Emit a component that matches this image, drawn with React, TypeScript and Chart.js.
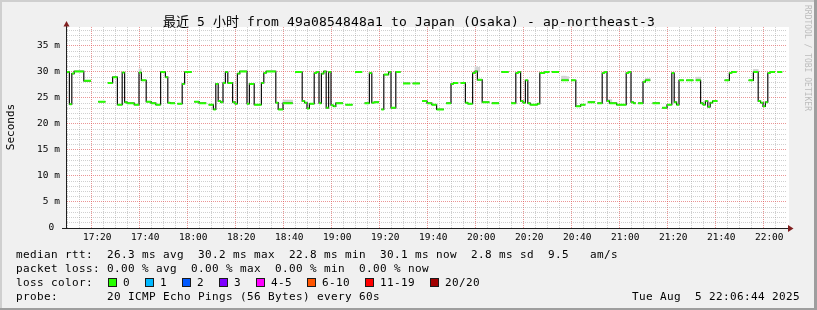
import { useEffect, useRef } from 'react';
import { Chart, registerables } from 'chart.js';

Chart.register(...registerables);

// ---------- data ----------
// graph window: 5 hours, minutes of day
const WINDOW_START = 17 * 60 + 7.4;
const WINDOW_MINUTES = 300;

// median rtt (ms) as runs: minute offset from window start where a value begins, value (null = no data)
const runStart = [
  0, 1, 2, 3, 7, 10, 13, 16, 17, 19, 21, 23, 24, 25, 28, 30, 31, 33, 35, 37, 39, 41, 42, 43, 45, 46, 48, 49, 52, 53,
  55, 58, 59, 61, 62, 63, 64, 65, 66, 67, 69, 70, 71, 72, 75, 76, 78, 81, 82, 83, 87, 88, 90, 94, 95, 98, 99, 100, 101, 103,
  104, 105, 106, 107, 108, 109, 110, 111, 112, 115, 116, 119, 120, 123, 124, 126, 127, 128, 130, 131, 132, 134, 135, 137, 139, 140, 143, 144, 147, 148,
  150, 152, 154, 157, 158, 160, 161, 163, 164, 166, 167, 169, 170, 171, 173, 176, 177, 180, 181, 184, 185, 187, 188, 189, 190, 191, 192, 193, 196, 197,
  199, 201, 202, 205, 206, 209, 210, 212, 214, 216, 217, 220, 221, 223, 224, 225, 226, 229, 233, 234, 235, 236, 237, 238, 240, 241, 243, 244, 247, 248,
  250, 252, 253, 254, 255, 257, 258, 261, 262, 264, 265, 266, 267, 268, 269, 271, 274, 276, 277, 279, 284, 286, 288, 289, 290, 291, 292, 293, 295, 296,
  298,
];
const runValue: (number | null)[] = [
  30.0, 23.8, 29.7, 30.1, 28.3, null, 24.3, null, 27.9, 29.0, 23.7, 29.9, 24.2, 24.0, 23.7, 29.9, 28.4, 24.3, 24.0, 23.7, 30.0, 29.0, 24.1, 24.0, null, 23.9, 27.7, 30.0, null, 24.3,
  24.0, null, 23.7, 22.8, 27.7, 24.4, 24.2, 27.9, 30.0, 27.9, 24.2, 23.9, 29.7, 30.1, 23.9, 27.7, 23.7, 27.9, 29.8, 30.1, 24.1, 22.8, 24.0, null, 30.0, 24.4, 24.1, 23.0, 23.9, 29.8,
  30.0, 24.0, 29.7, 30.1, 23.1, 30.0, 23.6, 23.4, 24.0, null, 23.7, null, 30.0, null, 24.0, 29.8, 24.1, 24.2, null, 22.8, 29.5, 30.0, 23.1, 30.0, null, 27.8, null, 27.8, null, 24.4,
  24.0, 23.7, 22.8, null, 24.0, 27.7, 27.9, null, 27.9, 24.1, 23.9, 29.8, 30.1, 28.5, 24.2, null, 24.0, null, 30.0, null, 24.0, 29.8, 30.0, 24.4, 24.1, 28.4, 24.0, 23.7, 23.9, 29.8,
  30.0, null, 30.0, null, 28.4, null, 28.4, 23.4, 23.7, null, 24.2, null, 24.0, 29.8, 30.0, 24.4, 24.0, 23.7, 29.8, 30.0, 24.2, 24.0, null, 24.0, 28.1, 28.4, null, 24.0, null, 23.1,
  23.7, 29.8, 24.2, 23.7, 28.4, null, 28.4, null, 28.4, 24.0, 23.7, 24.4, 23.3, 24.1, 24.4, null, 28.4, 29.8, 30.0, null, 28.4, 30.0, 24.4, 24.1, 23.4, 24.2, 29.8, 30.0, null, 30.0,
  null,
];

// smoke (spread of individual pings) for the few minutes where it shows
const smokeMinute = [30, 90, 91, 92, 93, 170, 171, 206, 207, 208, 225, 226, 241, 242, 262, 263, 286, 287];
const smokeLow = [29.9, 24.0, 24.0, 24.0, 24.0, 30.0, 30.0, 28.4, 28.4, 28.4, 24.3, 24.3, 28.4, 28.4, 28.5, 28.5, 30.0, 30.0];
const smokeHigh = [30.6, 24.6, 24.6, 24.6, 24.6, 31.0, 30.9, 29.2, 29.2, 29.1, 24.7, 24.7, 28.8, 28.8, 29.0, 29.0, 30.5, 30.5];

const xTickLabels = ['17:20', '17:40', '18:00', '18:20', '18:40', '19:00', '19:20', '19:40', '20:00', '20:20', '20:40', '21:00', '21:20', '21:40', '22:00'];
const yTickValues = [0, 5, 10, 15, 20, 25, 30, 35];
const Y_MAX = 38.65;
const X_MINOR_STEP = 5; // minutes
const Y_MINOR_STEP = 1; // ms

const titleText = '最近 5 小时 from 49a0854848a1 to Japan (Osaka) - ap-northeast-3';
const yTitle = 'Seconds';
const legendLines = [
  'median rtt:  26.3 ms avg  30.2 ms max  22.8 ms min  30.1 ms now  2.8 ms sd  9.5   am/s',
  'packet loss: 0.00 % avg  0.00 % max  0.00 % min  0.00 % now',
  'loss color:',
  'probe:       20 ICMP Echo Pings (56 Bytes) every 60s',
];
const lossLabels = ['0', '1', '2', '3', '4-5', '6-10', '11-19', '20/20'];
const lossColors = ['#26ff00', '#00b8ff', '#0059ff', '#7e00ff', '#ff00ff', '#ff5500', '#ff0000', '#a10000'];
const dateText = 'Tue Aug  5 22:06:44 2025';
const watermark = 'RRDTOOL / TOBI OETIKER';

// ---------- styles ----------
const MONO = "'DejaVu Sans Mono', monospace";
const TITLE_FONT = "13px 'DejaVu Sans Mono', 'Noto Sans CJK SC', monospace";
const GRID = 'rgba(143,143,143,0.42)';
const MGRID = 'rgba(222,79,79,0.6)';
const NONE = 'rgba(0,0,0,0)';

function toMinutes(label: string) {
  const [h, m] = label.split(':').map(Number);
  return h * 60 + m;
}
const xTickValues = xTickLabels.map(toMinutes);

// build plotting tables from the arrays
const medianPts: { x: number; y: number | null }[] = [];
const greenPts: { x: number; y: number | null }[] = [];
for (let i = 0; i < runStart.length; i++) {
  const v = runValue[i];
  const x = WINDOW_START + runStart[i];
  if (v === null) {
    medianPts.push({ x, y: null });
    continue;
  }
  medianPts.push({ x, y: v });
  if (i + 1 < runStart.length) {
    const xe = WINDOW_START + runStart[i + 1];
    if (runValue[i + 1] === null) medianPts.push({ x: xe, y: v });
    greenPts.push({ x, y: v }, { x: xe, y: v }, { x: xe, y: null });
  }
}
const smokePts = smokeMinute.map((m, i) => ({ x: WINDOW_START + m + 0.5, y: [smokeLow[i], smokeHigh[i]] }));

function drawMono(ctx: CanvasRenderingContext2D, text: string, x: number, y: number, adv: number, cjkAdv = adv) {
  let cx = x;
  for (const ch of text) {
    if (ch !== ' ') ctx.fillText(ch, cx, y);
    cx += ch.charCodeAt(0) > 0x2e80 ? cjkAdv : adv;
  }
}

const rrdPlugin = {
  id: 'rrd',
  beforeDraw(chart: any) {
    const { ctx, width, height, chartArea: a } = chart;
    ctx.save();
    ctx.fillStyle = '#f0f0f0';
    ctx.fillRect(0, 0, width, height);
    ctx.fillStyle = '#cfcfcf';
    ctx.fillRect(0, 0, width, 2);
    ctx.fillRect(0, 0, 2, height);
    ctx.fillStyle = '#9e9e9e';
    ctx.fillRect(0, height - 2, width, 2);
    ctx.fillRect(width - 3, 0, 3, height);
    ctx.fillStyle = '#ffffff';
    ctx.fillRect(a.left, a.top, a.right - a.left + 2, a.bottom - a.top);
    ctx.restore();
  },
  afterDatasetsDraw(chart: any) {
    const { ctx, chartArea: a } = chart;
    ctx.save();
    // axes
    ctx.strokeStyle = '#1f1f1f';
    ctx.lineWidth = 1;
    ctx.beginPath();
    ctx.moveTo(a.left - 5, a.bottom + 0.5);
    ctx.lineTo(a.right + 3, a.bottom + 0.5);
    ctx.moveTo(a.left - 0.5, a.bottom + 0.5);
    ctx.lineTo(a.left - 0.5, a.top - 3);
    ctx.stroke();
    ctx.fillStyle = '#801f1f';
    ctx.beginPath();
    ctx.moveTo(a.right + 1, a.bottom - 3);
    ctx.lineTo(a.right + 6.5, a.bottom + 0.5);
    ctx.lineTo(a.right + 1, a.bottom + 4);
    ctx.closePath();
    ctx.fill();
    ctx.beginPath();
    ctx.moveTo(a.left - 3.5, a.top - 0.5);
    ctx.lineTo(a.left - 0.5, a.top - 6);
    ctx.lineTo(a.left + 2.5, a.top - 0.5);
    ctx.closePath();
    ctx.fill();
    ctx.restore();
  },
  afterDraw(chart: any) {
    const { ctx } = chart;
    ctx.save();
    ctx.fillStyle = '#000';
    ctx.textBaseline = 'alphabetic';
    ctx.textAlign = 'left';
    // title
    ctx.font = TITLE_FONT;
    drawMono(ctx, titleText, 163, 26, 8, 13);
    // y title
    ctx.save();
    ctx.font = `11px ${MONO}`;
    ctx.translate(13.5, 127);
    ctx.rotate(-Math.PI / 2);
    ctx.textAlign = 'center';
    ctx.fillText(yTitle, 0, 0);
    ctx.restore();
    // legend
    ctx.font = `11px ${MONO}`;
    const base = [258, 272, 286, 299.5];
    legendLines.forEach((t, i) => drawMono(ctx, t, 16, base[i], 7));
    let bx = 108;
    lossLabels.forEach((lab, i) => {
      ctx.fillStyle = lossColors[i];
      ctx.fillRect(bx, 278, 9, 9);
      ctx.strokeStyle = '#1a1a1a';
      ctx.lineWidth = 1;
      ctx.strokeRect(bx + 0.5, 278.5, 8, 8);
      ctx.fillStyle = '#000';
      drawMono(ctx, lab, bx + 15, base[2], 7);
      bx += 30 + lab.length * 7;
    });
    drawMono(ctx, dateText, 632, base[3], 7);
    // watermark
    ctx.save();
    ctx.fillStyle = '#bcbcbc';
    ctx.font = `8px ${MONO}`;
    ctx.translate(805, 5);
    ctx.rotate(Math.PI / 2);
    ctx.fillText(watermark, 0, 0);
    ctx.restore();
    ctx.restore();
  },
};

const tickFont = { family: MONO, size: 9.5 };

export default function App() {
  const ref = useRef<HTMLCanvasElement>(null);
  useEffect(() => {
    document.body.style.margin = '0';
    const chart = new Chart(ref.current as HTMLCanvasElement, {
      type: 'line',
      data: {
        datasets: [
          {
            type: 'line',
            label: 'loss 0',
            data: greenPts as any,
            borderColor: lossColors[0],
            borderWidth: 2,
            borderCapStyle: 'butt',
            pointRadius: 0,
            spanGaps: false,
            order: 0,
            xAxisID: 'x',
            yAxisID: 'y',
          },
          {
            type: 'line',
            label: 'median rtt',
            data: medianPts as any,
            borderColor: '#101010',
            borderWidth: 1.2,
            stepped: 'before',
            pointRadius: 0,
            spanGaps: false,
            order: 1,
            xAxisID: 'x',
            yAxisID: 'y',
          },
          {
            type: 'bar',
            label: 'smoke',
            data: smokePts as any,
            backgroundColor: '#d4d4d4',
            barThickness: 2.4,
            grouped: false,
            order: 2,
            xAxisID: 'x',
            yAxisID: 'y',
          } as any,
        ],
      },
      options: {
        responsive: false,
        animation: false,
        devicePixelRatio: 1,
        events: [],
        layout: { padding: { left: 0, top: 27, right: 30, bottom: 62 } },
        plugins: { legend: { display: false }, tooltip: { enabled: false }, title: { display: false } },
        scales: {
          x: {
            type: 'linear',
            position: 'bottom',
            min: WINDOW_START,
            max: WINDOW_START + WINDOW_MINUTES,
            offset: false,
            grid: {
              color: (c: any) => {
                const v = c.tick ? Math.round(c.tick.value) : -1;
                return xTickValues.includes(v) ? MGRID : GRID;
              },
              lineWidth: 1,
              drawTicks: false,
            },
            border: { display: false, dash: [1, 1] },
            ticks: {
              font: tickFont,
              color: '#000',
              padding: 4,
              autoSkip: false,
              maxRotation: 0,
              callback: (v: any) => {
                const k = xTickValues.indexOf(Math.round(v));
                return k >= 0 ? xTickLabels[k] : '';
              },
            },
            afterBuildTicks: (s: any) => {
              const t = [];
              for (let v = Math.ceil(WINDOW_START / X_MINOR_STEP) * X_MINOR_STEP; v < WINDOW_START + WINDOW_MINUTES; v += X_MINOR_STEP)
                t.push({ value: v });
              s.ticks = t;
            },
            afterFit: (s: any) => {
              s.height = 20;
            },
          },
          y: {
            type: 'linear',
            position: 'left',
            min: 0,
            max: Y_MAX,
            grid: {
              color: (c: any) => {
                const v = c.tick ? Math.round(c.tick.value) : -1;
                if (v === 0) return NONE;
                return yTickValues.includes(v) ? MGRID : GRID;
              },
              lineWidth: 1,
              drawTicks: false,
            },
            border: { display: false, dash: [1, 1] },
            ticks: {
              font: tickFont,
              color: '#000',
              padding: 7,
              autoSkip: false,
              callback: (v: any) => {
                const r = Math.round(v);
                if (!yTickValues.includes(r)) return '';
                return r === 0 ? '0 ' : `${r} m`;
              },
            },
            afterBuildTicks: (s: any) => {
              const t = [];
              for (let v = 0; v < Y_MAX; v += Y_MINOR_STEP) t.push({ value: v });
              s.ticks = t;
            },
            afterFit: (s: any) => {
              s.width = 67;
            },
          },
        },
      } as any,
      plugins: [rrdPlugin],
    });
    return () => chart.destroy();
  }, []);
  return (
    <div style={{ width: 817, height: 310 }}>
      <canvas ref={ref} width={817} height={310} style={{ display: 'block' }} />
    </div>
  );
}
